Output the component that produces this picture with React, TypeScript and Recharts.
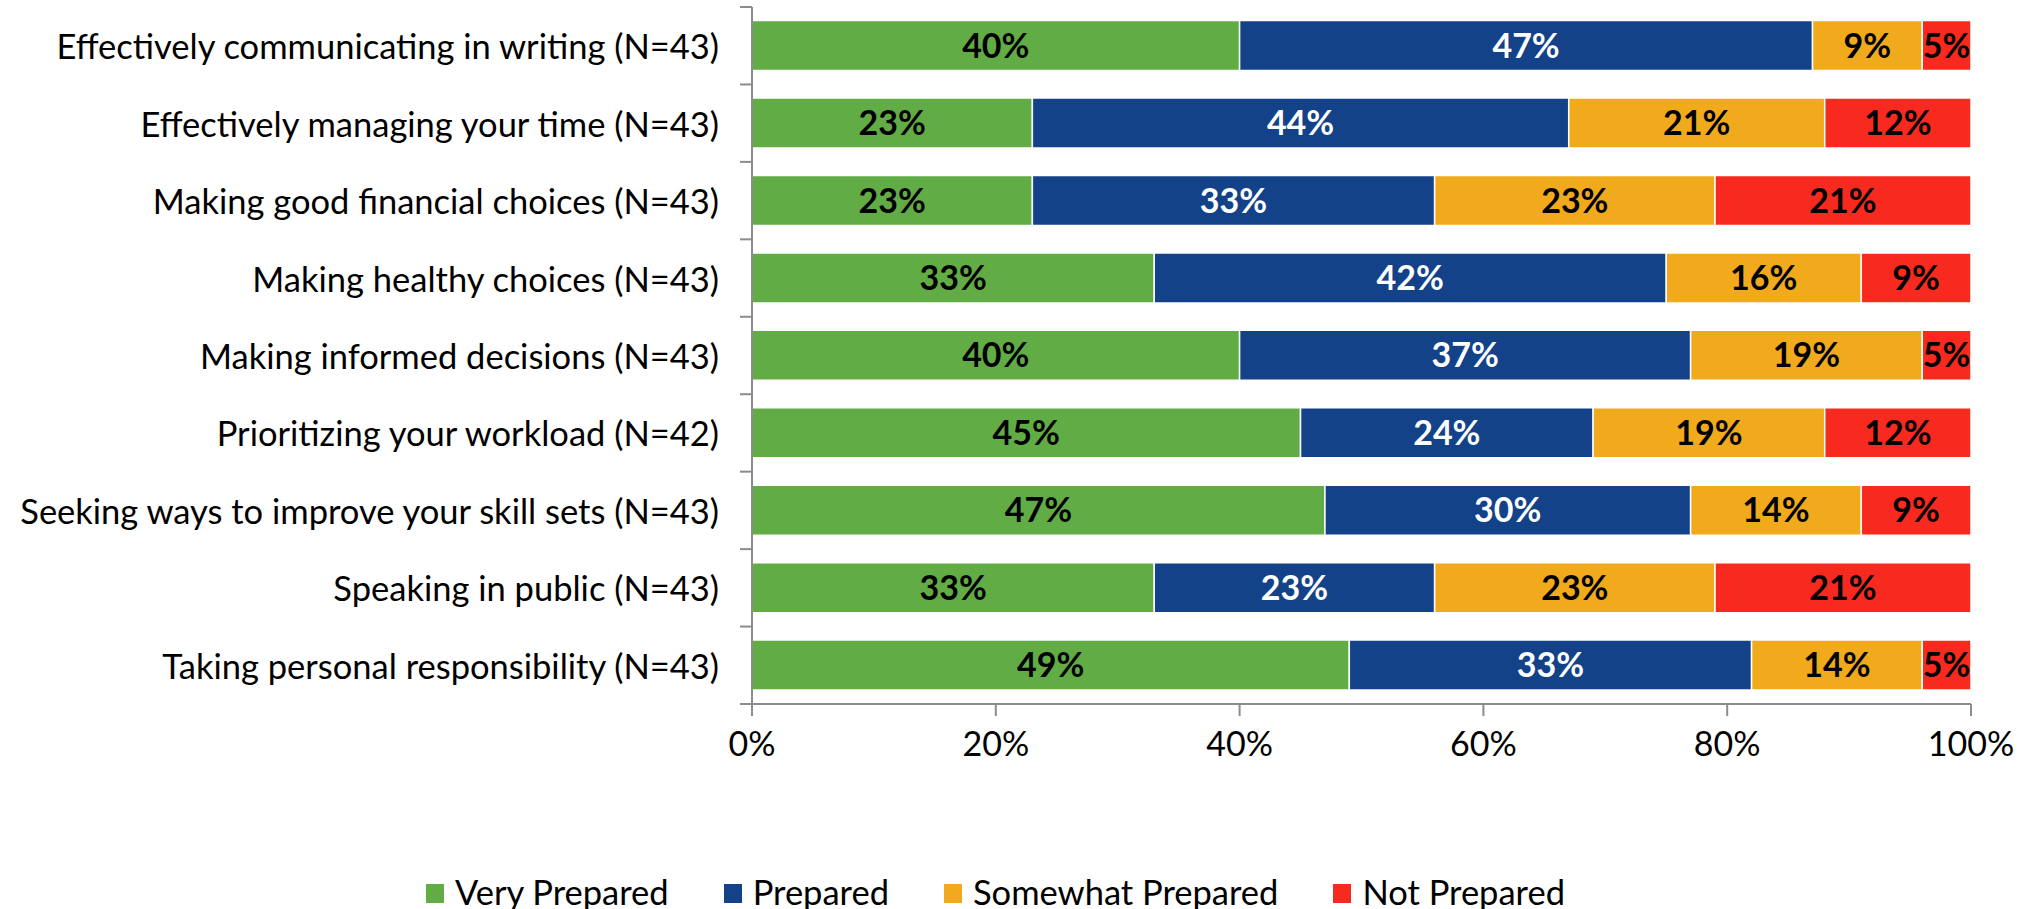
import React from 'react';
import { BarChart, Bar, XAxis, YAxis, Legend, LabelList } from 'recharts';

// survey rows, top to bottom
const categories = [
    'Effectively communicating in writing (N=43)',
    'Effectively managing your time (N=43)',
    'Making good financial choices (N=43)',
    'Making healthy choices (N=43)',
    'Making informed decisions (N=43)',
    'Prioritizing your workload (N=42)',
    'Seeking ways to improve your skill sets (N=43)',
    'Speaking in public (N=43)',
    'Taking personal responsibility (N=43)',
];
const veryPrepared = [40, 23, 23, 33, 40, 45, 47, 33, 49];
const prepared = [47, 44, 33, 42, 37, 24, 30, 23, 33];
const somewhatPrepared = [9, 21, 23, 16, 19, 19, 14, 23, 14];
const notPrepared = [5, 12, 21, 9, 5, 12, 9, 21, 5];
const xTicks = [0, 20, 40, 60, 80, 100];

const series = [
    { key: 'very', name: 'Very Prepared', color: '#62AC46', text: '#000' },
    { key: 'prep', name: 'Prepared', color: '#134289', text: '#fff' },
    { key: 'some', name: 'Somewhat Prepared', color: '#F0AA1C', text: '#000' },
    { key: 'not', name: 'Not Prepared', color: '#F82A20', text: '#000' },
];

const data = categories.map((name, i) => ({
    name,
    very: veryPrepared[i],
    prep: prepared[i],
    some: somewhatPrepared[i],
    not: notPrepared[i],
}));

const W = 2030;
const H = 909;
const AXIS_W = 752;
const AXIS = '#8c8c8c';
const FONT = 'Lato, "Open Sans", sans-serif';
const FS = 34;
const CAT_FS = 34.5;

const CategoryTick = (props: any) => {
    const { y, payload, index, visibleTicksCount } = props;
    const half = payload.offset || 38.7;
    return (
        <g>
            <line x1={AXIS_W - 12} x2={AXIS_W} y1={y - half} y2={y - half} stroke={AXIS} strokeWidth={2} />
            {index === visibleTicksCount - 1 && (
                <line x1={AXIS_W - 12} x2={AXIS_W} y1={y + half} y2={y + half} stroke={AXIS} strokeWidth={2} />
            )}
            <text x={AXIS_W - 33} y={y} textAnchor="end" dominantBaseline="central" fontSize={CAT_FS} fill="#000">
                {payload.value}
            </text>
        </g>
    );
};

const renderLegend = () => (
    <div style={{ display: 'flex', justifyContent: 'center', alignItems: 'center', height: 40, paddingRight: 39 }}>
        {series.map((s, i) => (
            <div key={s.key} style={{ display: 'flex', alignItems: 'center', marginLeft: i ? 55 : 0 }}>
                <span style={{ display: 'inline-block', width: 18, height: 19, background: s.color, marginRight: 11, marginTop: 4 }} />
                <span style={{ fontSize: 34.5, color: '#000' }}>{s.name}</span>
            </div>
        ))}
    </div>
);

const App: React.FC = () => {
    return (
        <div style={{ width: W, height: H, fontFamily: FONT, background: '#fff' }}>
            <style>{'body{margin:0}'}</style>
            <BarChart
                width={W}
                height={H}
                data={data}
                layout="vertical"
                margin={{ top: 7, right: 59, left: 0, bottom: 105 }}
                barCategoryGap="17.5%"
            >
                <XAxis
                    type="number"
                    domain={[0, 100]}
                    ticks={xTicks}
                    allowDataOverflow
                    tickFormatter={(v) => `${v}%`}
                    height={60}
                    stroke={AXIS}
                    strokeWidth={2}
                    tickSize={12}
                    tickMargin={16}
                    tick={{ fill: '#000', fontSize: FS }}
                />
                <YAxis
                    type="category"
                    dataKey="name"
                    width={AXIS_W}
                    stroke={AXIS}
                    strokeWidth={2}
                    tickLine={false}
                    tick={<CategoryTick />}
                    interval={0}
                />
                <Legend verticalAlign="bottom" content={renderLegend} wrapperStyle={{ left: 0, width: W, bottom: -2 }} />
                {series.map((s) => (
                    <Bar
                        key={s.key}
                        dataKey={s.key}
                        name={s.name}
                        stackId="a"
                        fill={s.color}
                        stroke="#fff"
                        strokeWidth={1.5}
                        isAnimationActive={false}
                    >
                        <LabelList
                            dataKey={s.key}
                            position="center"
                            formatter={(v: any) => `${v}%`}
                            fill={s.text}
                            fontSize={FS}
                            fontWeight="bold"
                        />
                    </Bar>
                ))}
            </BarChart>
        </div>
    );
};

export default App;
